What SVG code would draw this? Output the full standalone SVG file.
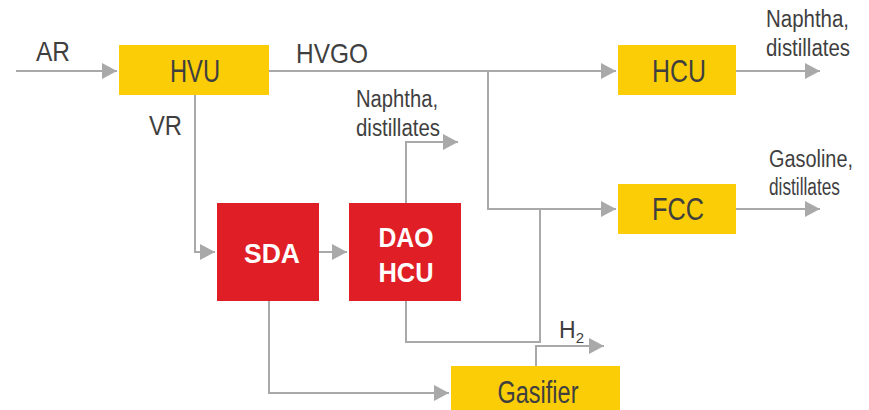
<svg xmlns="http://www.w3.org/2000/svg" width="869" height="410" viewBox="0 0 869 410">
<defs>
<marker id="arr" markerUnits="userSpaceOnUse" markerWidth="16" markerHeight="16" refX="15" refY="8" orient="auto">
<path d="M0,0 L15,8 L0,16 z" fill="#a9a9a9"/>
</marker>
<style>
.y{fill:#fbcd07}
.r{fill:#e01e25}
.c{fill:none;stroke:#a9a9a9;stroke-width:2}
.t{font-family:"Liberation Sans",Arial,sans-serif;fill:#3f3f3f}
.bl{font-family:"Liberation Sans",Arial,sans-serif;fill:#3f3f3f;font-size:31px;text-anchor:middle}
.wb{font-family:"Liberation Sans",Arial,sans-serif;fill:#ffffff;font-size:28px;font-weight:bold;text-anchor:middle}
.lb{font-size:28px}
.sm{font-size:23px}
</style>
</defs>
<rect width="869" height="410" fill="#ffffff"/>
<g id="connectors">
<path class="c" d="M16 71 H117" marker-end="url(#arr)"/>
<path class="c" d="M269 71 H616" marker-end="url(#arr)"/>
<path class="c" d="M488 71 V209 H616" marker-end="url(#arr)"/>
<path class="c" d="M736 71 H820" marker-end="url(#arr)"/>
<path class="c" d="M736 209 H820" marker-end="url(#arr)"/>
<path class="c" d="M195 95 V252 H215" marker-end="url(#arr)"/>
<path class="c" d="M319 252 H347" marker-end="url(#arr)"/>
<path class="c" d="M406 203 V142 H458" marker-end="url(#arr)"/>
<path class="c" d="M406 301 V342 H540 V209"/>
<path class="c" d="M269 301 V393 H449" marker-end="url(#arr)"/>
<path class="c" d="M536 366 V346 H604" marker-end="url(#arr)"/>
</g>
<g id="labels">
<text class="t lb" x="36" y="61" textLength="34" lengthAdjust="spacingAndGlyphs">AR</text>
<text class="t lb" x="296" y="63" textLength="72" lengthAdjust="spacingAndGlyphs">HVGO</text>
<text class="t lb" x="149" y="135" textLength="33" lengthAdjust="spacingAndGlyphs">VR</text>
<text class="t sm" x="766" y="27" textLength="83" lengthAdjust="spacingAndGlyphs">Naphtha,</text>
<text class="t sm" x="766" y="56" textLength="84" lengthAdjust="spacingAndGlyphs">distillates</text>
<text class="t sm" x="356" y="107" textLength="82" lengthAdjust="spacingAndGlyphs">Naphtha,</text>
<text class="t sm" x="356" y="136" textLength="84" lengthAdjust="spacingAndGlyphs">distillates</text>
<text class="t sm" x="769" y="167" textLength="84" lengthAdjust="spacingAndGlyphs">Gasoline,</text>
<text class="t sm" x="769" y="195" textLength="71" lengthAdjust="spacingAndGlyphs">distillates</text>
<text class="t" x="559" y="338" font-size="23">H<tspan dy="5" font-size="15">2</tspan></text>
</g>
<g id="HVU">
<rect class="y" x="119" y="45" width="150" height="50"/>
<text class="bl" x="195" y="82" textLength="50" lengthAdjust="spacingAndGlyphs">HVU</text>
</g>
<g id="HCU">
<rect class="y" x="618" y="45" width="118" height="50"/>
<text class="bl" x="679" y="82" textLength="54" lengthAdjust="spacingAndGlyphs">HCU</text>
</g>
<g id="FCC">
<rect class="y" x="618" y="184" width="118" height="50"/>
<text class="bl" x="678" y="220" textLength="52" lengthAdjust="spacingAndGlyphs">FCC</text>
</g>
<g id="SDA">
<rect class="r" x="217" y="203" width="102" height="98"/>
<text class="wb" x="272" y="263" textLength="56" lengthAdjust="spacingAndGlyphs">SDA</text>
</g>
<g id="DAO_HCU">
<rect class="r" x="349" y="203" width="112" height="98"/>
<text class="wb" x="406" y="247" textLength="55" lengthAdjust="spacingAndGlyphs">DAO</text>
<text class="wb" x="406" y="282" textLength="55" lengthAdjust="spacingAndGlyphs">HCU</text>
</g>
<g id="Gasifier">
<rect class="y" x="451" y="366" width="169" height="44"/>
<text class="bl" x="538" y="403" textLength="81" lengthAdjust="spacingAndGlyphs">Gasifier</text>
</g>
</svg>
